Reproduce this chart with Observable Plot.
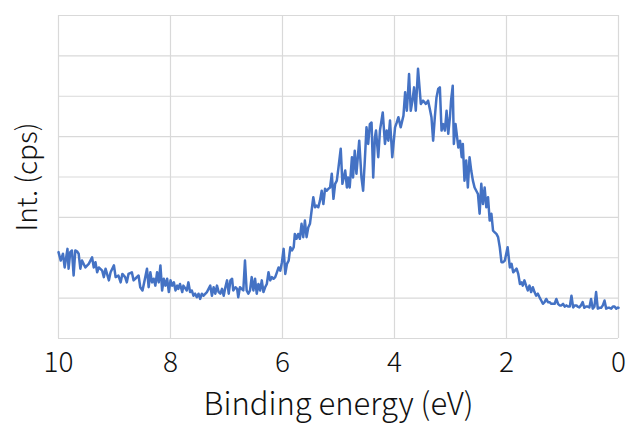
<!DOCTYPE html>
<html>
<head>
<meta charset="utf-8">
<script src="https://cdn.jsdelivr.net/npm/d3@7"></script>
<script src="https://cdn.jsdelivr.net/npm/@observablehq/plot@0.6"></script>
<style>
  html, body { margin: 0; padding: 0; background: #fff; }
</style>
</head>
<body>
<div id="chart"></div>
<script>
const energy = [
  10.00, 9.96, 9.92, 9.89, 9.84, 9.82, 9.79, 9.76, 9.73, 9.70, 9.67, 9.64, 9.61, 9.58, 9.52, 9.46, 9.40, 9.37, 9.34, 9.31,
  9.28, 9.22, 9.19, 9.16, 9.10, 9.07, 9.01, 8.98, 8.93, 8.89, 8.86, 8.81, 8.78, 8.75, 8.69, 8.66, 8.63, 8.57, 8.54, 8.50,
  8.45, 8.42, 8.39, 8.36, 8.33, 8.30, 8.27, 8.24, 8.21, 8.18, 8.15, 8.12, 8.09, 8.06, 8.03, 8.00, 7.97, 7.94, 7.91, 7.88,
  7.86, 7.83, 7.79, 7.77, 7.71, 7.68, 7.65, 7.62, 7.59, 7.56, 7.53, 7.50, 7.47, 7.44, 7.41, 7.35, 7.32, 7.29, 7.26, 7.23,
  7.20, 7.17, 7.14, 7.11, 7.08, 7.05, 7.02, 6.99, 6.96, 6.93, 6.90, 6.88, 6.84, 6.81, 6.79, 6.76, 6.73, 6.70, 6.67, 6.64,
  6.61, 6.58, 6.55, 6.52, 6.49, 6.46, 6.43, 6.40, 6.37, 6.34, 6.31, 6.28, 6.25, 6.22, 6.19, 6.16, 6.13, 6.10, 6.07, 6.04,
  6.01, 5.98, 5.95, 5.92, 5.89, 5.86, 5.83, 5.80, 5.78, 5.75, 5.72, 5.69, 5.66, 5.63, 5.60, 5.57, 5.54, 5.51, 5.48, 5.45,
  5.42, 5.39, 5.36, 5.33, 5.30, 5.27, 5.24, 5.21, 5.18, 5.15, 5.12, 5.09, 5.06, 5.03, 5.00, 4.96, 4.93, 4.88, 4.85, 4.83,
  4.80, 4.76, 4.74, 4.71, 4.68, 4.63, 4.59, 4.56, 4.53, 4.50, 4.47, 4.44, 4.41, 4.38, 4.35, 4.33, 4.29, 4.26, 4.21, 4.17,
  4.14, 4.11, 4.08, 4.04, 3.99, 3.96, 3.93, 3.89, 3.84, 3.81, 3.78, 3.76, 3.74, 3.71, 3.68, 3.65, 3.62, 3.58, 3.53, 3.49,
  3.44, 3.40, 3.37, 3.34, 3.31, 3.28, 3.25, 3.22, 3.19, 3.16, 3.13, 3.10, 3.07, 3.04, 3.01, 2.99, 2.96, 2.94, 2.91, 2.86,
  2.83, 2.80, 2.78, 2.75, 2.72, 2.69, 2.66, 2.63, 2.60, 2.57, 2.54, 2.51, 2.48, 2.45, 2.42, 2.39, 2.36, 2.33, 2.30, 2.27,
  2.24, 2.21, 2.18, 2.15, 2.12, 2.09, 2.06, 2.03, 1.98, 1.94, 1.91, 1.88, 1.85, 1.82, 1.79, 1.76, 1.73, 1.71, 1.68, 1.65,
  1.62, 1.59, 1.56, 1.53, 1.50, 1.47, 1.44, 1.41, 1.38, 1.35, 1.32, 1.29, 1.26, 1.23, 1.20, 1.17, 1.14, 1.11, 1.08, 1.05,
  1.02, 0.99, 0.96, 0.93, 0.90, 0.87, 0.84, 0.81, 0.78, 0.75, 0.73, 0.70, 0.67, 0.64, 0.61, 0.58, 0.55, 0.52, 0.49, 0.46,
  0.43, 0.40, 0.37, 0.34, 0.31, 0.28, 0.25, 0.22, 0.19, 0.16, 0.13, 0.10, 0.07, 0.04, 0.01, 0.00
];
const intensity = [
  2140, 1930, 2100, 1760, 2220, 1730, 2140, 2180, 1560, 2180, 2160, 2100, 1730, 1930, 1760, 1850, 2010, 1760, 1890, 1640,
  1760, 1680, 1520, 1730, 1440, 1640, 1810, 1520, 1560, 1390, 1600, 1520, 1390, 1600, 1640, 1440, 1480, 1560, 1270, 1190,
  1520, 1730, 1270, 1640, 1390, 1480, 1310, 1640, 1390, 1810, 1190, 1480, 1310, 1480, 1150, 1440, 1310, 1390, 1190, 1310,
  1230, 1350, 1150, 1310, 1190, 1390, 1150, 1190, 1060, 1110, 1020, 1110, 980, 1110, 1060, 1150, 1230, 1310, 1060, 1270,
  1110, 1310, 1150, 1110, 1230, 1060, 1270, 1440, 1110, 1440, 1480, 1190, 1270, 1230, 1020, 1270, 1230, 1190, 1930, 1190,
  1110, 1190, 1520, 1190, 1480, 1110, 1350, 1190, 1440, 1150, 1270, 1350, 1640, 1440, 1520, 1480, 1520, 1640, 1760, 1680,
  1890, 2220, 1600, 1850, 1930, 2260, 2180, 2260, 2590, 2470, 2590, 2470, 2840, 2510, 2920, 2510, 2750, 2840, 3170, 3500,
  3250, 3290, 3250, 3420, 3660, 3330, 3710, 3660, 3710, 3740, 4080, 3460, 3830, 3910, 4240, 4700, 3830, 4160, 3740, 3990,
  3740, 4490, 3990, 4650, 4080, 4900, 3990, 3660, 4410, 5230, 4820, 5310, 5350, 3990, 4980, 5150, 4490, 5150, 5600, 4820,
  5150, 4900, 5400, 4490, 5230, 5350, 5480, 5230, 5520, 6100, 5640, 6060, 6550, 5640, 5890, 6220, 5640, 6680, 5810, 5890,
  5810, 5890, 5690, 5480, 4900, 5480, 5970, 6180, 6220, 5150, 5310, 5150, 5640, 5070, 5480, 5890, 6260, 4820, 5310, 4730,
  4900, 4490, 4820, 3910, 4410, 3740, 4490, 4160, 3910, 3740, 3660, 3580, 3090, 3830, 3330, 3740, 3250, 3500, 2920, 3090,
  2670, 2630, 2590, 2510, 2260, 1890, 1890, 1930, 2260, 1760, 1850, 1640, 1680, 1730, 1600, 1350, 1390, 1310, 1440, 1310,
  1190, 1310, 1150, 1270, 1150, 1060, 1110, 1020, 940, 860, 900, 980, 900, 900, 860, 860, 860, 980, 860, 820,
  820, 860, 790, 820, 790, 790, 1060, 770, 820, 820, 790, 770, 820, 900, 760, 790, 790, 770, 980, 740,
  790, 1150, 740, 760, 760, 820, 940, 740, 760, 760, 740, 790, 790, 740, 770, 760
];
const xTicks = [10, 8, 6, 4, 2, 0];
const yGridValues = [0, 1000, 2000, 3000, 4000, 5000, 6000, 7000, 8000];
const xTitle = "Binding energy (eV)";
const yTitle = "Int. (cps)";

const data = energy.map((e, i) => ({E: e, I: intensity[i]}));

const chart = Plot.plot({
  width: 626,
  height: 426,
  marginLeft: 58,
  marginRight: 8,
  marginTop: 15,
  marginBottom: 88,
  style: {
    fontFamily: "'Noto Sans CJK JP', 'Noto Sans', sans-serif",
    fontSize: "28px",
    fontWeight: 300,
    color: "#111",
    background: "#fff",
    overflow: "visible"
  },
  x: {domain: [10, 0]},
  y: {domain: [0, 8000], axis: null},
  marks: [
    Plot.gridX(xTicks, {stroke: "#d9d9d9", strokeOpacity: 1, strokeWidth: 1.2}),
    Plot.gridY(yGridValues, {stroke: "#d9d9d9", strokeOpacity: 1, strokeWidth: 1.2}),
    Plot.line(data, {x: "E", y: "I", stroke: "#4472C4", strokeWidth: 2.5, strokeLinejoin: "round"}),
    Plot.axisX(xTicks, {tickSize: 0, tickPadding: 14, label: null, fontSize: 28, tickFormat: d => String(d)}),
    Plot.text([xTitle], {text: d => d, frameAnchor: "bottom", textAnchor: "middle", lineAnchor: "middle", dy: 67, fontSize: 31, fill: "#111"}),
    Plot.text([yTitle], {text: d => d, frameAnchor: "left", textAnchor: "middle", lineAnchor: "middle", dx: -30, rotate: -90, fontSize: 28, fill: "#111"})
  ]
});
document.getElementById("chart").append(chart);
</script>
</body>
</html>
